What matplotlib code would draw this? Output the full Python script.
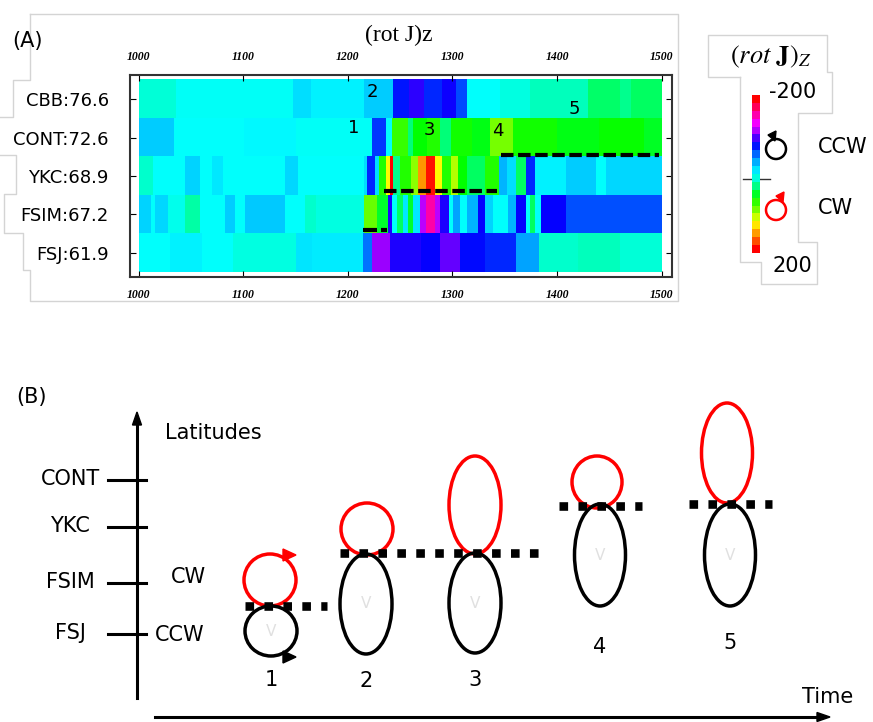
import numpy as np
import matplotlib
matplotlib.use('Agg')
import matplotlib.pyplot as plt
from matplotlib.colors import LinearSegmentedColormap, ListedColormap
from matplotlib.patches import Ellipse, Polygon

plt.rcParams['font.family'] = ['DejaVu Sans']
plt.rcParams['mathtext.fontset'] = 'stix'

W, H = 873, 722

# ---------------- panel A data: (rot J)z per station, piecewise constant in UT minutes
stations = ['CBB:76.6', 'CONT:72.6', 'YKC:68.9', 'FSIM:67.2', 'FSJ:61.9']
time_ticks = [1000, 1100, 1200, 1300, 1400, 1500]

cbb_t = [1000, 1035, 1147, 1164, 1215, 1243, 1258, 1272, 1290, 1303, 1314, 1345, 1374, 1429, 1460, 1470]
cbb_v = [12, 2, -15, -6, -22, -75, -88, -70, -82, -60, 0, 8, 20, 38, 30, 40]

cont_t = [1000, 1033, 1100, 1150, 1223, 1236, 1242, 1257, 1262, 1275, 1288, 1298, 1318, 1336, 1358, 1400, 1440, 1483]
cont_v = [-22, 0, -3, 2, -65, 0, 75, 35, 60, 70, 35, 65, 55, 95, 65, 55, 62, 52]

ykc_t = [1000, 1013, 1044, 1058, 1070, 1080, 1140, 1152, 1215, 1218, 1226, 1229, 1236, 1240, 1243, 1250,
         1260, 1267, 1274, 1283, 1290, 1298, 1305, 1314, 1331, 1344, 1352, 1360, 1370, 1379, 1408, 1437, 1446]
ykc_v = [15, 0, -20, 0, -10, 0, -18, 0, -15, -70, -15, 70, 130, 200, 30, 70,
         100, 160, 195, 130, 70, 110, 60, 40, 70, -30, -15, 40, -70, -5, -22, 0, -18]

fsim_t = [1000, 1011, 1015, 1028, 1044, 1058, 1082, 1092, 1101, 1140, 1159, 1169, 1215, 1228, 1238, 1242,
          1247, 1252, 1257, 1262, 1269, 1274, 1283, 1288, 1296, 1300, 1307, 1314, 1324, 1331, 1338, 1353,
          1360, 1370, 1374, 1379, 1384, 1408]
fsim_v = [-20, 0, -18, 5, 25, 0, -22, 0, -25, 0, 15, 8, 90, 50, -85, 0,
          40, -10, 50, -10, -120, -160, -120, -85, 0, -35, 0, -30, -80, -20, 0, -30,
          -80, 0, 40, 0, -80, -58]

fsj_t = [1000, 1030, 1060, 1090, 1150, 1165, 1214, 1223, 1240, 1270, 1288, 1307, 1331, 1360, 1382, 1420, 1460]
fsj_v = [0, -5, 0, 8, -12, -8, -50, -110, -85, -80, -100, -78, -70, -35, 15, 20, 12]

# event numbers marked on the map (time, row)
event_ids = ['1', '2', '3', '4', '5']
event_t = [1205, 1223, 1278, 1343, 1417]
event_row = [1.25, 0.31, 1.3, 1.33, 0.76]

# boundary dashes on the map: (t0, t1, row)
bound_t0 = [1234, 1346]
bound_t1 = [1343, 1498]
bound_row = [2.89, 1.95]

# colour scale
cmap_vals = [-200, -170, -140, -110, -80, -50, -25, 0, 25, 60, 100, 130, 160, 200]
cmap_cols = ['#ff0000', '#ff0080', '#ff00ff', '#9900ff', '#0000ff', '#0070ff', '#00c8ff', '#00ffff',
             '#00ffaa', '#00ff00', '#88ff00', '#ffff00', '#ff9900', '#ff0000']

# ---------------- panel B schematic
lat_names = ['CONT', 'YKC', 'FSIM', 'FSJ']
lat_y = [480, 527, 583, 634]
vortex_ids = ['1', '2', '3', '4', '5']
cw_x = [270, 367, 475, 597, 727]
cw_y = [580, 529, 505, 482, 453]
cw_w = [52, 52, 52, 50, 51]
cw_h = [52, 52, 98, 52, 100]
ccw_x = [271, 366, 475, 600, 730]
ccw_y = [631, 604, 603, 555, 555]
ccw_w = [52, 52, 52, 51, 51]
ccw_h = [50, 100, 100, 102, 102]
label_y = [680, 681, 680, 647, 643]
sep_y = [606, 553, 506, 504]
sep_x0 = [245, 340, 559, 689]
sep_x1 = [327, 542, 642, 772]


def expand(times, vals, grid):
    idx = np.searchsorted(times, grid, side='right') - 1
    return np.array(vals, dtype=float)[idx]


def px_axes(x0, y0, x1, y1):
    return fig.add_axes([x0 / W, 1 - y1 / H, (x1 - x0) / W, (y1 - y0) / H])


fig = plt.figure(figsize=(W / 100, H / 100), dpi=100)

# overlay in pixel coordinates for the schematic parts
ov = fig.add_axes([0, 0, 1, 1])
ov.set_xlim(0, W)
ov.set_ylim(H, 0)
ov.axis('off')

cmap = LinearSegmentedColormap.from_list(
    'rotj', [((v + 200) / 400, c) for v, c in zip(cmap_vals, cmap_cols)], N=256)

# ---------------- heat map
t_grid = np.arange(1000, 1500) + 0.5
Z = np.vstack([expand(cbb_t, cbb_v, t_grid), expand(cont_t, cont_v, t_grid),
               expand(ykc_t, ykc_v, t_grid), expand(fsim_t, fsim_v, t_grid),
               expand(fsj_t, fsj_v, t_grid)])

ax = px_axes(129.5, 75, 672, 277)
ax.imshow(Z, cmap=cmap, vmin=-200, vmax=200, extent=[1000, 1500, 5, 0],
          aspect='auto', interpolation='nearest')
ax.set_xlim(991, 1510)
ax.set_ylim(5.13, -0.13)
ax.set_xticks(time_ticks)
ax.set_xticklabels([str(t) for t in time_ticks], fontfamily='Liberation Serif', fontstyle='italic',
                   fontweight='bold', fontsize=8.5)
ax.set_yticks(np.arange(5) + 0.5)
ax.set_yticklabels(stations, fontsize=13)
ax.tick_params(axis='y', direction='in', length=4, left=True, right=True, pad=15)
ax.tick_params(axis='x', direction='in', length=4, top=True, bottom=True,
               labeltop=True, labelbottom=True, pad=9)
for sp in ax.spines.values():
    sp.set_linewidth(1.5)
    sp.set_color('#333333')

for t0, t1, r in zip(bound_t0, bound_t1, bound_row):
    ax.plot([t0, t1], [r, r], color='black', lw=3, dashes=(3, 1.1), solid_capstyle='butt',
            dash_capstyle='butt')
# short dash-dot under event 1
ax.plot([1214.5, 1228], [3.9, 3.9], color='black', lw=3, solid_capstyle='butt')
ax.plot([1232, 1237], [3.9, 3.9], color='black', lw=3, solid_capstyle='butt')

for lab, t, r in zip(event_ids, event_t, event_row):
    ax.text(t, r, lab, fontsize=13, ha='center', va='center')

ov.text(399, 35, '(rot J)z', fontsize=17, family='Liberation Serif', ha='center', va='center')
ov.text(27, 41, '(A)', fontsize=15, ha='center', va='center')

# ---------------- colour bar legend
cmap20 = ListedColormap(cmap(np.linspace(0, 1, 20)))
cax = px_axes(752, 95, 760, 253)
cax.imshow(np.linspace(-200, 200, 20)[:, None], cmap=cmap20, vmin=-200, vmax=200, aspect='auto',
           interpolation='nearest')
cax.axis('off')
ov.plot([743, 770], [179, 179], color='#333333', lw=1)
ov.text(771, 57, r'$(rot\ \mathbf{J})_Z$', fontsize=19, ha='center', va='center')
ov.text(769, 92, '-200', fontsize=15, ha='left', va='center')
ov.text(773, 266, '200', fontsize=15, ha='left', va='center')
ov.text(818, 147, 'CCW', fontsize=15, ha='left', va='center')
ov.text(818, 208, 'CW', fontsize=15, ha='left', va='center')
ov.add_patch(Ellipse((776, 149), 20, 20, fill=False, ec='black', lw=1.8))
ov.add_patch(Polygon([[768, 135], [776, 131], [775, 141]], closed=True, fc='black', ec='black'))
ov.add_patch(Ellipse((776, 210), 20, 20, fill=False, ec='red', lw=1.8))
ov.add_patch(Polygon([[776, 196], [784, 192], [783, 202]], closed=True, fc='red', ec='red'))

# light grey outlines of the pasted panels
grey = '#d4d4d4'
ov.plot([30, 678, 678, 30, 30, 23, 23, 4, 4, 16, 16, 0], [14, 14, 301, 301, 270, 270, 233, 233, 194, 194, 155, 155],
        color=grey, lw=1)
ov.plot([0, 13, 13, 30, 30], [117, 117, 80, 80, 14], color=grey, lw=1)
ov.plot([740, 708, 708, 827, 827, 832, 832, 798, 798, 817, 817, 761, 761, 740, 740],
        [77, 77, 35, 35, 72, 72, 113, 113, 242, 242, 284, 284, 262, 262, 77], color=grey, lw=1)

# ---------------- panel B
ov.text(32, 397, '(B)', fontsize=15, ha='center', va='center')
ov.plot([137, 137], [424, 698], color='black', lw=2.2)
ov.add_patch(Polygon([[137, 412], [132.5, 425], [141.5, 425]], closed=True, fc='black', ec='black'))
ov.plot([155, 818], [717, 717], color='black', lw=2.2)
ov.add_patch(Polygon([[830, 717], [817, 712.5], [817, 721.5]], closed=True, fc='black', ec='black'))
ov.text(165, 433, 'Latitudes', fontsize=15, ha='left', va='center')
ov.text(828, 697, 'Time', fontsize=15, ha='center', va='center')
for name, y in zip(lat_names, lat_y):
    ov.plot([108, 146], [y, y], color='black', lw=2.2)
    ov.text(70, y - 1, name, fontsize=15, ha='center', va='center')
ov.text(171, 577, 'CW', fontsize=15, ha='left', va='center')
ov.text(155, 635, 'CCW', fontsize=15, ha='left', va='center')

for i in range(len(vortex_ids)):
    ov.add_patch(Ellipse((cw_x[i], cw_y[i]), cw_w[i], cw_h[i], fill=False, ec='red', lw=2.5, zorder=3))
    ov.add_patch(Ellipse((ccw_x[i], ccw_y[i]), ccw_w[i], ccw_h[i], fill=False, ec='black', lw=2.5, zorder=3))
    ov.text(ccw_x[i], ccw_y[i], 'V', fontsize=11, color='#e0e0e0', ha='center', va='center')
    ov.text(ccw_x[i], label_y[i], vortex_ids[i], fontsize=15, ha='center', va='center')

for y, x0, x1 in zip(sep_y, sep_x0, sep_x1):
    ov.plot([x0, x1], [y, y], color='black', lw=6.2, dashes=(1, 1.2), dash_capstyle='butt', zorder=4)

# rotation arrows on vortex 1
ov.add_patch(Polygon([[283, 549], [283, 561], [296, 555]], closed=True, fc='red', ec='red', zorder=4))
ov.add_patch(Polygon([[283, 651], [283, 663], [296, 657]], closed=True, fc='black', ec='black', zorder=4))

fig.savefig('out.png', dpi=100)
